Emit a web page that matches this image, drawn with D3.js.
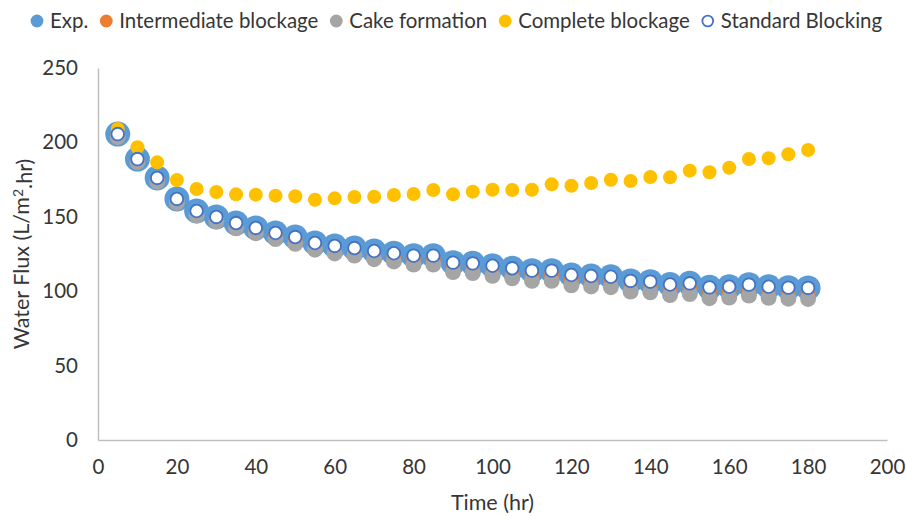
<!DOCTYPE html>
<html>
<head>
<meta charset="utf-8">
<script src="https://cdnjs.cloudflare.com/ajax/libs/d3/7.8.5/d3.min.js"></script>
<style>
  html, body { margin: 0; padding: 0; background: #fff; }
  svg { display: block; font-family: Lato, "Open Sans", sans-serif; }
</style>
</head>
<body>
<svg id="chart" width="906" height="517"></svg>
<script>
// Filtration time (hr)
const time = [5, 10, 15, 20, 25, 30, 35, 40, 45, 50, 55, 60, 65, 70, 75, 80, 85, 90,
              95, 100, 105, 110, 115, 120, 125, 130, 135, 140, 145, 150, 155, 160, 165, 170, 175, 180];

// Measured water flux (L/m².hr)
const expFlux = [205.6, 188.8, 176.1, 162, 153.9, 149.9, 145.8, 142.5, 139.1, 136.4, 132.4, 130.4, 129, 127,
                 125.5, 123.9, 123.9, 119.2, 118.7, 117.1, 115.4, 113.8, 113.8, 110.9, 110.2, 109.7, 106.9, 106.4, 104.5,
                 105.3, 102.6, 103, 104.4, 103, 102.4, 102.2];

// Model predictions
const intermediateFlux = [204.8, 187.9, 175, 160.8, 152.6, 148.5, 144.3, 140.9, 137.4, 134.6, 130.5, 128.4, 127, 124.9,
                          123.3, 121.6, 121.6, 116.8, 116.2, 114.5, 112.8, 111.1, 111.1, 108.1, 107.4, 106.8, 104, 103.4, 101.6,
                          102.4, 99.6, 100, 101.4, 100, 99.3, 99.1];

const cakeFlux = [203.5, 186.8, 173.6, 159.5, 150.9, 146.9, 142.3, 139, 135.1, 131.9, 127.9, 125.4, 124, 121.5,
                  120, 117.9, 117.9, 112.9, 112.2, 110.4, 108.7, 107, 107, 104, 103.2, 102.7, 99.8, 99.3, 97.4,
                  98.1, 95.3, 95.7, 97.1, 95.6, 95, 94.8];

const completeFlux = [209, 196.7, 186.6, 174.7, 168.7, 166.7, 165.1, 164.9, 164.2, 163.8, 161.5, 162.4, 163.3, 163.5,
                      164.7, 165.3, 168, 165.1, 166.9, 168.2, 168, 168.2, 171.8, 170.9, 172.7, 174.9, 174.1, 176.7, 176.5,
                      181, 179.9, 183, 188.8, 189.3, 192, 194.9];

const standardFlux = [205.6, 188.8, 176.1, 162, 153.9, 149.9, 145.8, 142.5, 139.1, 136.4, 132.4, 130.4, 129, 127,
                      125.5, 123.9, 123.9, 119.2, 118.7, 117.1, 115.4, 113.8, 113.8, 110.9, 110.2, 109.7, 106.9, 106.4, 104.5,
                      105.3, 102.6, 103, 104.4, 103, 102.4, 102.2];

// Axis ticks
const xTicks = [0, 20, 40, 60, 80, 100, 120, 140, 160, 180, 200];
const yTicks = [0, 50, 100, 150, 200, 250];

const seriesNames = ["Exp.", "Intermediate blockage", "Cake formation", "Complete blockage", "Standard Blocking"];

// Drawing styles, in drawing order
const series = [
  { name: seriesNames[0], values: expFlux,          r: 12.5, fill: "#5B9BD5", stroke: "none",    sw: 0 },
  { name: seriesNames[1], values: intermediateFlux, r: 7.5,  fill: "#ED7D31", stroke: "none",    sw: 0 },
  { name: seriesNames[2], values: cakeFlux,         r: 8,    fill: "#A5A5A5", stroke: "none",    sw: 0 },
  { name: seriesNames[3], values: completeFlux,     r: 7,    fill: "#FFC000", stroke: "none",    sw: 0 },
  { name: seriesNames[4], values: standardFlux,     r: 6.3,  fill: "#FFFFFF", stroke: "#4472C4", sw: 1.8 }
];

const svg = d3.select("#chart");
const textColor = "#363636";

const x = d3.scaleLinear().domain([0, 200]).range([98, 887]);
const y = d3.scaleLinear().domain([0, 250]).range([440, 68]);

// Axes
const xAxis = svg.append("g")
  .attr("transform", `translate(0,${y(0)})`)
  .call(d3.axisBottom(x).tickValues(xTicks).tickSize(0).tickPadding(20).tickFormat(d3.format("d")));
const yAxis = svg.append("g")
  .attr("transform", `translate(${x(0)},0)`)
  .call(d3.axisLeft(y).tickValues(yTicks).tickSize(0).tickPadding(20).tickFormat(d3.format("d")));

[xAxis, yAxis].forEach(g => {
  g.select(".domain").attr("stroke", "#BFBFBF").attr("stroke-width", 1.5);
  g.selectAll("text").attr("fill", textColor).style("font-size", "20.5px").style("font-family", "Lato, sans-serif");
});
xAxis.selectAll("text").attr("dy", "0.71em").attr("y", 19);

// Axis titles
svg.append("text")
  .attr("x", (x(0) + x(200)) / 2)
  .attr("y", 510)
  .attr("text-anchor", "middle")
  .attr("fill", textColor)
  .style("font-size", "21.5px")
  .text("Time (hr)");

const yTitle = svg.append("text")
  .attr("transform", `translate(29,${(y(0) + y(250)) / 2}) rotate(-90)`)
  .attr("text-anchor", "middle")
  .attr("fill", textColor)
  .style("font-size", "21.5px");
yTitle.append("tspan").text("Water Flux (L/m");
yTitle.append("tspan").attr("dy", "-0.45em").style("font-size", "14px").text("2");
yTitle.append("tspan").attr("dy", "0.45em").text(".hr)");

// Markers
const plot = svg.append("g");
series.forEach(s => {
  plot.append("g").selectAll("circle")
    .data(time.map((t, i) => ({ t, v: s.values[i] })))
    .join("circle")
    .attr("cx", d => x(d.t))
    .attr("cy", d => y(d.v))
    .attr("r", s.r)
    .attr("fill", s.fill)
    .attr("stroke", s.stroke)
    .attr("stroke-width", s.sw);
});

// Legend
const legend = svg.append("g").attr("transform", "translate(0,21)");
let lx = 37;
series.forEach(s => {
  const item = legend.append("g");
  if (s.stroke !== "none") {
    item.append("circle").attr("cx", lx).attr("cy", 0).attr("r", 5.4)
      .attr("fill", "#fff").attr("stroke", s.stroke).attr("stroke-width", 1.8);
  } else {
    item.append("circle").attr("cx", lx).attr("cy", 0).attr("r", 6.4).attr("fill", s.fill);
  }
  const t = item.append("text")
    .attr("x", lx + 13)
    .attr("y", 0)
    .attr("dy", "0.35em")
    .attr("fill", textColor)
    .style("font-size", "20.45px")
    .text(s.name);
  lx += 13 + t.node().getComputedTextLength() + 18;
});
</script>
</body>
</html>
